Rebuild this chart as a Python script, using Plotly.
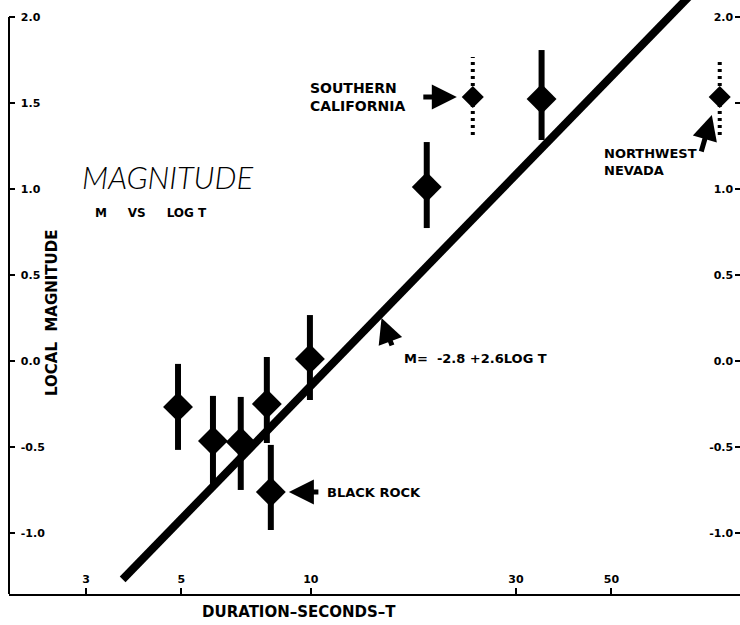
import plotly.graph_objects as go
import math

# ---- data ----
T = [4.91, 5.92, 6.87, 7.90, 8.07, 9.95, 18.6, 34.4]
M = [-0.267, -0.465, -0.471, -0.250, -0.762, 0.012, 1.012, 1.523]
M_hi = [-0.017, -0.203, -0.209, 0.023, -0.488, 0.267, 1.273, 1.808]
M_lo = [-0.517, -0.721, -0.750, -0.477, -0.983, -0.227, 0.773, 1.285]

# points with "x" marked ranges (Southern California, Northwest Nevada)
TX = [23.8, 89.3]
MX = [1.535, 1.535]
MX_hi = [1.767, 1.762]
MX_lo = [1.314, 1.314]

# regression line  M = -2.8 + 2.6 log T  (as drawn)
fit_T = [3.65, 80.0]
fit_M = [-1.27, 2.18]

x_ticks = [3, 5, 10, 30, 50]
y_ticks = [2.0, 1.5, 1.0, 0.5, 0.0, -0.5, -1.0]
y_left_labels = ["2.0", "1.5", "1.0", "0.5", "0.0", "-0.5", "-1.0"]
y_right_labels = ["2.0", "", "1.0", "0.5", "0.0", "-0.5", "-1.0"]

Y_MIN, Y_MAX = -1.355, 2.099

BOLD = "DejaVu Sans"

fig = go.Figure()

fig.add_trace(go.Scatter(x=fit_T, y=fit_M, mode="lines",
                         line=dict(color="black", width=8), hoverinfo="skip"))

for t, lo, hi in zip(TX, MX_lo, MX_hi):
    fig.add_trace(go.Scatter(x=[t, t], y=[lo, hi], mode="lines",
                             line=dict(color="black", width=4, dash="3px,4px")))

fig.add_trace(go.Scatter(
    x=T, y=M, mode="markers",
    marker=dict(symbol="diamond", size=23, color="black"),
    error_y=dict(type="data", symmetric=False,
                 array=[h - m for h, m in zip(M_hi, M)],
                 arrayminus=[m - l for m, l in zip(M, M_lo)],
                 color="black", thickness=6, width=0)))

fig.add_trace(go.Scatter(x=TX, y=MX, mode="markers",
                         marker=dict(symbol="diamond", size=17, color="black")))

# invisible trace for right axis
fig.add_trace(go.Scatter(x=[T[0]], y=[M[0]], yaxis="y2", mode="markers",
                         marker=dict(opacity=0), hoverinfo="skip"))

tickfont = dict(family=BOLD, size=11, color="black", weight="bold")

fig.update_layout(
    width=740, height=625, showlegend=False,
    margin=dict(l=9, r=0, t=0, b=31),
    paper_bgcolor="white", plot_bgcolor="white",
    xaxis=dict(type="log", range=[0.298, 1.998], tickvals=x_ticks,
               ticktext=[str(v) for v in x_ticks],
               ticks="inside", ticklen=6, tickwidth=2, tickcolor="black",
               ticklabelposition="inside", tickfont=tickfont, ticklabelstandoff=2,
               showline=True, linecolor="black", linewidth=2,
               showgrid=False, zeroline=False),
    yaxis=dict(range=[Y_MIN, Y_MAX], tickvals=y_ticks, ticktext=y_left_labels,
               ticks="inside", ticklen=6, tickwidth=2, tickcolor="black",
               ticklabelposition="inside", tickfont=tickfont, ticklabelstandoff=5,
               showline=False, showgrid=False, zeroline=False),
    yaxis2=dict(range=[Y_MIN, Y_MAX], overlaying="y", side="right",
                tickvals=y_ticks, ticktext=y_right_labels,
                ticks="inside", ticklen=5, tickwidth=2, tickcolor="black",
                ticklabelposition="inside", tickfont=tickfont, ticklabelstandoff=1,
                showline=False, showgrid=False, zeroline=False),
)

# left axis line (stops at 2.0)
fig.add_shape(type="line", xref="paper", yref="y", x0=0, x1=0, y0=Y_MIN, y1=2.0,
              line=dict(color="black", width=2))

def txt(s, x, y, size=12, xanchor="left", angle=0, font=None):
    f = font or dict(family=BOLD, size=size, color="black", weight="bold")
    fig.add_annotation(text=s, x=x, y=y, xref="paper", yref="paper",
                       showarrow=False, xanchor=xanchor, yanchor="middle",
                       align="left", textangle=angle, font=f)

txt("MAGNITUDE", 0.2175, 0.702, xanchor="center",
    font=dict(family="Lato", size=31, color="black", weight=300, style="italic"))
txt("M&nbsp;&nbsp;&nbsp;&nbsp;&nbsp;VS&nbsp;&nbsp;&nbsp;&nbsp;&nbsp;LOG T", 0.115, 0.641, size=12)
txt("LOCAL&nbsp;&nbsp;MAGNITUDE", 0.0588, 0.4747, size=15, xanchor="center", angle=-90)
txt("SOUTHERN<br>CALIFORNIA", 0.409, 0.8375, size=14)
txt("NORTHWEST<br>NEVADA", 0.8115, 0.727, size=13)
txt("M=&nbsp;&nbsp;-2.8 +2.6LOG T", 0.5376, 0.397, size=13)
txt("BLACK ROCK", 0.432, 0.1717, size=13)
txt("DURATION–SECONDS–T", 0.2613, -0.0303, size=15)

def arrow(x, y, ax, ay):
    fig.add_annotation(text="", x=x, y=y, xref="x", yref="y", ax=ax, ay=ay,
                       showarrow=True, arrowhead=2, arrowsize=1.0, arrowwidth=5,
                       arrowcolor="black", standoff=0, startstandoff=0)

arrow(math.log10(21.85), 1.535, -35, 0)      # Southern California
arrow(math.log10(85.6), 1.43, -11, 38)       # Northwest Nevada
arrow(math.log10(14.6), 0.25, 11, 29)        # equation
arrow(math.log10(8.89), -0.762, 31, 0)       # Black Rock

fig.write_html("out.html")
